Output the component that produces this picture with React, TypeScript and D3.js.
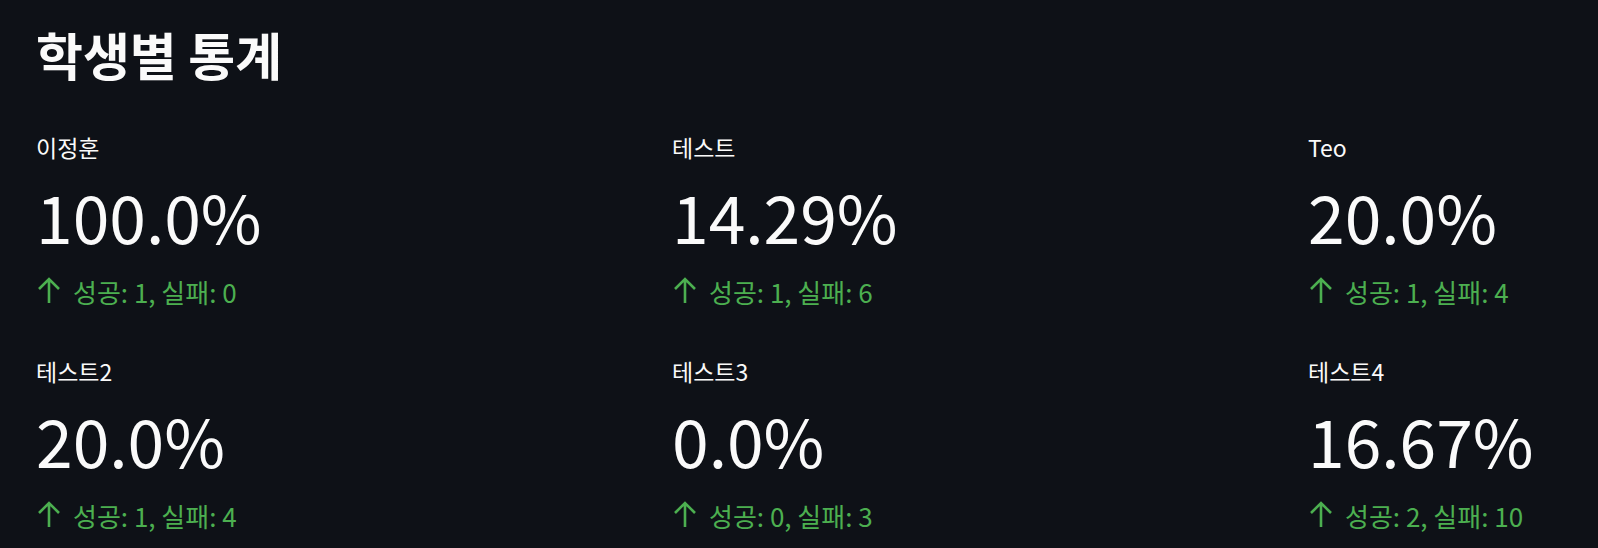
import * as d3 from "d3";

const names = ["이정훈", "테스트", "Teo", "테스트2", "테스트3", "테스트4"];
const rates = [100.0, 14.29, 20.0, 20.0, 0.0, 16.67];
const rateText = ["100.0%", "14.29%", "20.0%", "20.0%", "0.0%", "16.67%"];
const successes = [1, 1, 1, 1, 0, 2];
const failures = [0, 6, 4, 4, 3, 10];

const W = 1598;
const H = 548;
const FONT = "'Noto Sans CJK KR', 'Noto Sans', sans-serif";
const GREEN = "#4caf50";

export default function App() {
  const x = d3.scalePoint<number>().domain([0, 1, 2]).range([36, 1308]);
  const y = d3.scalePoint<number>().domain([0, 1]).range([0, 224]);
  return (
    <svg width={W} height={H} style={{ position: "absolute", left: 0, top: 0, background: "#0e1117" }}>
      <rect width={W} height={H} fill="#0e1117" />
      <text x={36} y={76} fill="#fafafa" fontSize={51} fontWeight={700} fontFamily={FONT}>학생별 통계</text>
      {names.map((n, i) => {
        const cx = x(i % 3)!;
        const oy = y(Math.floor(i / 3))!;
        return (
          <g key={n} transform={`translate(${cx},${oy})`} fontFamily={FONT}>
            <text y={157} fill="#fafafa" fontSize={23}>{n}</text>
            <text y={244} fill="#fafafa" fontSize={66} data-value={rates[i]}>{rateText[i]}</text>
            <path d="M13,303 V279 M3,289 L13,279 L23,289" fill="none" stroke={GREEN} strokeWidth={2.6} />
            <text x={37} y={303} fill={GREEN} fontSize={26}>
              {`성공: ${successes[i]}, 실패: ${failures[i]}`}
            </text>
          </g>
        );
      })}
    </svg>
  );
}
